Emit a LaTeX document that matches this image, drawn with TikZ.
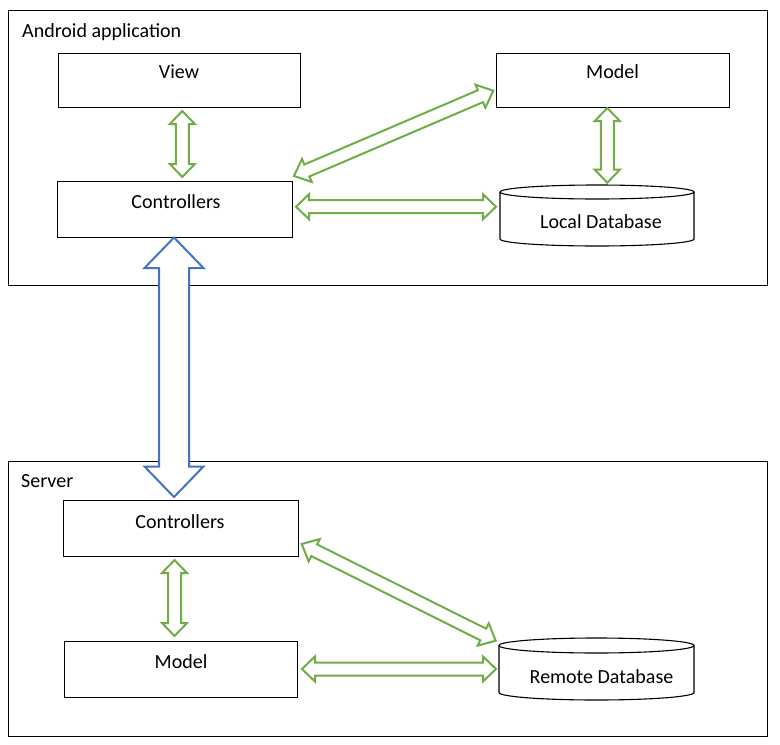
\documentclass[tikz,border=0pt]{standalone}
\usepackage{fontspec}
\setmainfont{Carlito}
\usetikzlibrary{calc}
\definecolor{arrgreen}{HTML}{70AD47}
\definecolor{arrblue}{HTML}{4472C4}
% #1 options, #2 start, #3 end, #4 head length, #5 half shaft, #6 half head
\newcommand{\dblarr}[6][]{%
  \path ($(#2)!#4!(#3)$) coordinate (ha) ($(#3)!#4!(#2)$) coordinate (hb);
  \draw[#1] (#2) -- ($(ha)!#6!90:(#3)$) -- ($(ha)!#5!90:(#3)$)
    -- ($(hb)!#5!-90:(#2)$) -- ($(hb)!#6!-90:(#2)$) -- (#3)
    -- ($(hb)!#6!90:(#2)$) -- ($(hb)!#5!90:(#2)$)
    -- ($(ha)!#5!-90:(#3)$) -- ($(ha)!#6!-90:(#3)$) -- cycle;
}
\newcommand{\cylinder}[6]{% name, left, right, top-center y, bottom-center y, ry
  \pgfmathsetmacro{\rx}{(#3-#2)/2}
  \draw[line width=1.1pt, fill=white] (#2,#4) -- (#2,#5) arc[start angle=180, end angle=360, x radius=\rx pt, y radius=#6 pt] -- (#3,#4);
  \draw[line width=1.1pt, fill=white] ({(#2+#3)/2},#4) ellipse[x radius=\rx pt, y radius=#6 pt];
  \coordinate (#1) at ({(#2+#3)/2},{(#4+#5)/2});
}
\begin{document}
\begin{tikzpicture}[x=1pt,y=-1pt,
  frame/.style={draw, line width=1pt, inner sep=0pt},
  box/.style={draw, line width=1pt, inner sep=0pt, fill=white},
  txt/.style={anchor=base, inner sep=0pt, font=\fontsize{20}{24}\selectfont},
  greenarr/.style={draw=arrgreen, line width=2pt, fill=white, line join=miter},
  bluearr/.style={draw=arrblue, line width=2pt, fill=white, line join=miter}]
\useasboundingbox (0,0) rectangle (780,745);
\fill[white] (0,0) rectangle (780,745);

% outer frames
\node[frame, minimum width=759pt, minimum height=275pt] (android) at (387.5,147.5) {};
\node[txt, anchor=base west] (androidt) at (22,37.5) {Android application};
\node[frame, minimum width=759pt, minimum height=275pt] (server) at (387.5,598.5) {};
\node[txt, anchor=base west] (servert) at (21,487) {Server};

% android boxes
\node[box, minimum width=242pt, minimum height=54pt] (view) at (179,80) {};
\node[txt] (viewt) at (179,78.5) {View};
\node[box, minimum width=233pt, minimum height=54pt] (model) at (612.5,80) {};
\node[txt] (modelt) at (612.5,78.5) {Model};
\node[box, minimum width=235pt, minimum height=56pt] (ctrl) at (174.5,209) {};
\node[txt] (ctrlt) at (176,208) {Controllers};
\cylinder{localdb}{500}{694}{192}{239}{7}
\node[txt] (localdbt) at (601,228) {Local Database};

% server boxes
\node[box, minimum width=235pt, minimum height=56pt] (sctrl) at (180.5,528) {};
\node[txt] (sctrlt) at (180,528) {Controllers};
\node[box, minimum width=233pt, minimum height=56pt] (smodel) at (180.5,669) {};
\node[txt] (smodelt) at (181,668) {Model};
\cylinder{remotedb}{499}{694}{645.5}{692.5}{7.5}
\node[txt] (remotedbt) at (601.5,683) {Remote Database};

% arrow end points
\coordinate (vc1) at (182.3,111);
\coordinate (vc2) at (182.3,177);
\coordinate (ml1) at (607.3,108);
\coordinate (ml2) at (607.3,182.7);
\coordinate (cl1) at (296,206.7);
\coordinate (cl2) at (496,206.7);
\coordinate (cm1) at (294,176);
\coordinate (cm2) at (493.3,90.7);
\coordinate (sm1) at (174.5,560);
\coordinate (sm2) at (174.5,636);
\coordinate (mr1) at (302,669);
\coordinate (mr2) at (496,669);
\coordinate (cr1) at (301.7,544);
\coordinate (cr2) at (495.7,640.7);
\coordinate (b1) at (174,237.5);
\coordinate (b2) at (174,497);

% green arrows
\dblarr[greenarr]{vc1}{vc2}{13pt}{6.5pt}{12.5pt}
\dblarr[greenarr]{ml1}{ml2}{13pt}{6.5pt}{12.5pt}
\dblarr[greenarr]{cl1}{cl2}{13pt}{6.5pt}{12.5pt}
\dblarr[greenarr]{cm1}{cm2}{14pt}{6.5pt}{12.5pt}
\dblarr[greenarr]{sm1}{sm2}{13pt}{6.5pt}{12.5pt}
\dblarr[greenarr]{mr1}{mr2}{13pt}{6.5pt}{12.5pt}
\dblarr[greenarr]{cr1}{cr2}{14pt}{6.5pt}{12.5pt}

% blue arrow
\dblarr[bluearr]{b1}{b2}{30.5pt}{15pt}{29.5pt}
\end{tikzpicture}
\end{document}
